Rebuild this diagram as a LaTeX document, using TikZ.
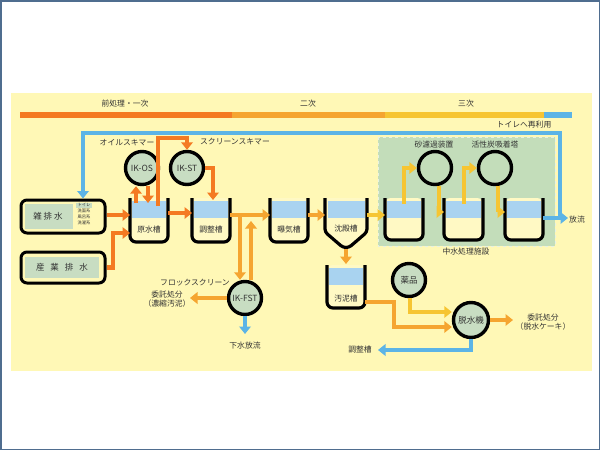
\documentclass[tikz,border=0pt]{standalone}
\usepackage{fontspec}
\setmainfont{Noto Sans CJK JP}
\usetikzlibrary{arrows.meta}
\definecolor{bgy}{HTML}{FFF8B6}
\definecolor{tanky}{HTML}{FFF9C4}
\definecolor{ordk}{HTML}{F47A22}
\definecolor{oamb}{HTML}{F5A530}
\definecolor{oyel}{HTML}{F6C532}
\definecolor{wblue}{HTML}{5CB4E6}
\definecolor{water}{HTML}{A9D3F0}
\definecolor{cgreen}{HTML}{C8DDC2}
\definecolor{agreen}{HTML}{C3DDBA}
\definecolor{framec}{HTML}{4F6D8F}
\definecolor{txt}{HTML}{333333}
\newcommand{\mktank}[5]{%
  \node[inner sep=0pt, outer sep=0pt, minimum width=#4pt, minimum height=#5pt] (#1) at (#2,{#3+#5/2}) {};
  \fill[tanky, rounded corners=6pt] (#1.north west) rectangle (#1.south east);
  \fill[water] ([xshift=2pt,yshift=-3pt]#1.north west) rectangle ([xshift=-2pt,yshift=-20pt]#1.north east);
  \draw[wall] (#1.north west) -- (#1.south west) -- (#1.south east) -- (#1.north east);
}
\begin{document}
\begin{tikzpicture}[x=1pt,y=-1pt,
  lab/.style={font=\fontsize{7.8}{8.5}\selectfont, text=txt, inner sep=0.5pt},
  smalltxt/.style={font=\fontsize{4.3}{5}\selectfont, text=txt, inner sep=0.3pt},
  wall/.style={line width=3.2pt, rounded corners=6pt},
  circ/.style={circle, draw=black, line width=3.4pt, fill=cgreen, minimum size=33pt, inner sep=0pt, font=\fontsize{8.5}{9}\selectfont, text=txt},
  ring/.style={circle, draw=black, line width=3.4pt, minimum size=33pt, inner sep=0pt},
  ah/.style={-{Triangle[width=11.5pt,length=7.5pt]}},
  fo/.style={draw=ordk, line width=4.5pt, ah},
  fa/.style={draw=oamb, line width=4.5pt, ah},
  fy/.style={draw=oyel, line width=4.5pt, ah},
  fb/.style={draw=wblue, line width=4.5pt, ah},
  srcbox/.style={draw=black, line width=3pt, rounded corners=6pt, fill=bgy, inner sep=0pt},
]
\useasboundingbox (0,0) rectangle (600,450);
\fill[white] (0,0) rectangle (600,450);
\draw[framec, line width=1.5pt] (0.75,0.75) rectangle (599.25,449.25);
\fill[bgy] (11,93) rectangle (592,371);

% header
\draw[ordk, line width=6.5pt] (20,115) -- (232,115);
\draw[oamb, line width=6.5pt] (232,115) -- (385,115);
\draw[oyel, line width=6.5pt] (385,115) -- (544,115);
\draw[wblue, line width=6.5pt] (544,115) -- (572,115);
\node[lab] (h1) at (125,104) {前処理・一次};
\node[lab] (h2) at (308,104) {二次};
\node[lab] (h3) at (466,104) {三次};

% green area
\fill[agreen] (378,137) rectangle (555,246);
\draw[white!60!agreen, line width=0.8pt, dashed] (378,137) rectangle (555,246);

% source boxes
\node[srcbox, minimum width=84pt, minimum height=33pt] (zatsu) at (63,216.5) {};
\fill[cgreen] (25,204) rectangle (73,229);
\node[lab, font=\fontsize{8.5}{9}\selectfont] (zatsuL) at (48,216) {雑\hspace{2pt}排\hspace{2pt}水};
\fill[cgreen] (76,202.5) rectangle (92,207.8);
\node[smalltxt] (s1) at (84,205) {トイレ};
\node[smalltxt] (s2) at (84,211) {洗面系};
\node[smalltxt] (s3) at (84,217) {風呂系};
\node[smalltxt] (s4) at (84,223) {洗濯系};

\node[srcbox, minimum width=84pt, minimum height=31pt] (sangyo) at (63,267.5) {};
\fill[cgreen] (25,257) rectangle (99,278);
\node[lab, font=\fontsize{8.5}{9}\selectfont] (sangyoL) at (62,267.5) {産\hspace{6pt}業\hspace{6pt}排\hspace{6pt}水};

% tanks
\mktank{gen}{149}{198}{38}{44}
\mktank{chosei}{211}{198}{38}{44}
\mktank{bakki}{289}{198}{38}{44}
\mktank{odei}{346}{265}{38}{43}
\mktank{t1}{404}{198}{38}{42}
\mktank{t2}{463.5}{198}{39}{42}
\mktank{t3}{524}{198}{38}{42}
% settling tank with funnel
\node[inner sep=0pt, outer sep=0pt, minimum width=42pt, minimum height=50pt] (chinden) at (346,223) {};
\fill[tanky, rounded corners=3pt] (chinden.north west) -- (325,232) -- (343,247.5) -- (349,247.5) -- (367,232) -- (chinden.north east) -- cycle;
\fill[water] (327.5,201) rectangle (364.5,218);
\draw[line width=3.2pt, rounded corners=3pt] (chinden.north west) -- (325,232) -- (343,247.5) -- (349,247.5) -- (367,232) -- (chinden.north east);

\node[lab] (genL) at (149,230) {原水槽};
\node[lab] (choseiL) at (211,230) {調整槽};
\node[lab] (bakkiL) at (289,230) {曝気槽};
\node[lab] (chindenL) at (346,229) {沈殿槽};
\node[lab] (odeiL) at (346,299) {汚泥槽};

% circles
\node[circ] (ikos) at (142,168) {IK-OS};
\node[circ] (ikst) at (187,168) {IK-ST};
\node[circ] (ikfst) at (245,298) {IK-FST};
\node[circ] (yaku) at (409,280) {薬品};
\node[circ, minimum size=35pt] (dasui) at (471,320) {脱水機};
\node[ring] (sf) at (435,168) {};
\node[ring] (ac) at (495,168) {};

% blue lines
\draw[fb] (t3.east |- 0,218) -- (568,218);
\draw[fb] (560,218) -- (560,133) -- (83,133) -- (zatsu.north -| 83,0);
\draw[fb] (ikfst.south) -- (245,334);
\draw[fb] (dasui.south) -- (471,350) -- (378,350);

% orange flows
\draw[fo] (zatsu.east |- 0,215) -- (gen.west |- 0,215);
\draw[fo] (sangyo.east) -- (113,267.5) -- (113,233) -- (gen.west |- 0,233);
\draw[fo] (gen.east |- 0,213) -- (chosei.west |- 0,213);
\draw[fo] (136,203) -- (ikos.south -| 136,0);
\draw[fo] (ikos.south -| 148,0) -- (148,203);
\draw[fo] (158,206) -- (158,138) -- (ikst.north |- 0,138) -- (ikst.north);
\draw[fo] (ikst.east) -- (213,168) -- (213,200);

% amber flows
\draw[fa] (chosei.east |- 0,215) -- (bakki.west |- 0,215);
\draw[fa] (bakki.east |- 0,215) -- (chinden.west |- 0,215);
\draw[oamb, line width=4.5pt] (240,215) -- (240,230);
\draw[fa] (240,225) -- (ikfst.north -| 240,0);
\draw[fa] (ikfst.north -| 251,0) -- (251,221);
\draw[fa] (ikfst.west) -- (190,298);
\draw[fa] (346,249) -- (odei.north |- 0,264);
\draw[fa] (odei.east |- 0,302) -- (394,302) -- (394,327) -- (dasui.west |- 0,327);
\draw[fa] (dasui.east) -- (513,320);

% yellow flows
\draw[fy] (chinden.east |- 0,215) -- (t1.west |- 0,215);
\draw[fy] (404,204) -- (404,168) -- (sf.west);
\draw[fy] (sf.south -| 439,0) -- (439,212) -- (t2.west |- 0,212);
\draw[fy] (464,204) -- (464,168) -- (ac.west);
\draw[fy] (ac.south -| 498,0) -- (498,212) -- (t3.west |- 0,212);
\draw[fy] (yaku.south -| 410,0) -- (410,312) -- (dasui.west |- 0,312);

% labels
\node[lab] (oilL) at (127,143) {オイルスキマー};
\node[lab] (scrL) at (235,142) {スクリーンスキマー};
\node[lab] (toileL) at (524,125) {トイレへ再利用};
\node[lab] (horyu) at (577,220) {放流};
\node[lab] (sfL) at (434,145) {砂濾過装置};
\node[lab] (acL) at (495,145) {活性炭吸着塔};
\node[lab] (chusuiL) at (466,252) {中水処理施設};
\node[lab] (flocL) at (195,283) {フロックスクリーン};
\node[lab, align=center] (itaku1) at (167,299) {委託処分\\（濃縮汚泥）};
\node[lab] (gesui) at (245,346) {下水放流};
\node[lab, align=center] (itaku2) at (543,322) {委託処分\\（脱水ケーキ）};
\node[lab] (choseiL2) at (360,350) {調整槽};
\end{tikzpicture}
\end{document}
